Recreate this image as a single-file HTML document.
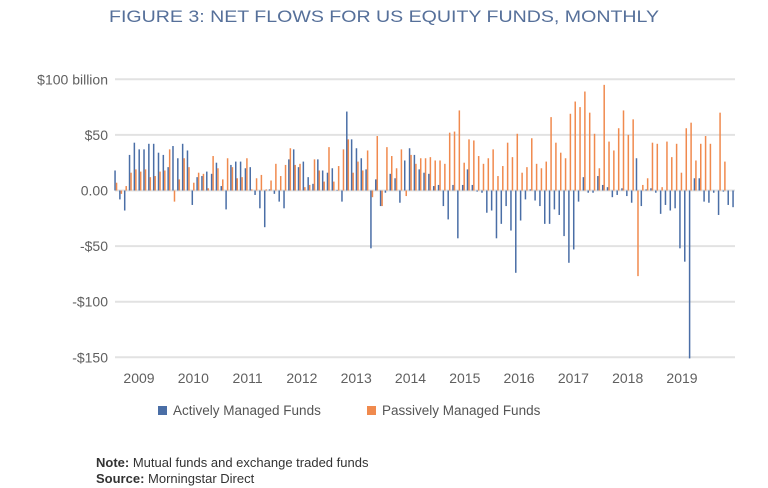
<!DOCTYPE html>
<html><head><meta charset="utf-8"><style>
html,body{margin:0;padding:0;background:#fff;}
svg{display:block;font-family:"Liberation Sans",sans-serif;}
</style></head><body>
<svg id="chart" width="768" height="488" viewBox="0 0 768 488">
<text x="384" y="22" text-anchor="middle" font-size="17" fill="#56709a" textLength="550" lengthAdjust="spacingAndGlyphs">FIGURE 3: NET FLOWS FOR US EQUITY FUNDS, MONTHLY</text>
<g id="grid"></g><g id="bars"></g><g id="xlabels"></g>
<g>
<rect x="158" y="406" width="9" height="9" fill="#4a6ea6"/>
<text x="173" y="415" font-size="13.5" fill="#555">Actively Managed Funds</text>
<rect x="367" y="406" width="9" height="9" fill="#f08a4e"/>
<text x="382" y="415" font-size="13.5" fill="#555">Passively Managed Funds</text>
</g>
<text x="96" y="467" font-size="13" fill="#333"><tspan font-weight="bold">Note:</tspan> Mutual funds and exchange traded funds</text>
<text x="96" y="483" font-size="13" fill="#333"><tspan font-weight="bold">Source:</tspan> Morningstar Direct</text>
</svg>
<script>
const active=[18,-8,-18,32,43,37,37,42,42,34,32,21,40,29,42,36,-13,12,13,17,15,25,4,-17,23,26,26,20,21,-4,-16,-33,1,-3,-10,-16,28,37,21,26,12,6,28,18,16,20,0.5,-10,71,46,38,29,19,-52,10,-14,-2,15,11,-11,27,38,32,19,16,15,4,5,-14,-26,5,-43,5,19,5,-1,-2,-20,-18,-43,-30,-14,-36,-74,-27,-8,1,-9,-14,-30,-30,-17,-22,-41,-65,-53,-10,12,-2,-2,13,5,3,-6,-4,2,-5,-11,29,-14,1,2,-2,-21,-13,-18,-16,-52,-64,-151,11,11,-10,-11,-2,-22,-1,-13,-15];
const passive=[7,-3,4,16,19,17,19,12,13,17,18,37,-10,10,29,21,7,16,15,2,31,20,10,29,21,11,12,29,1,11,14,1,9,24,13,23,38,23,24,3,5,28,18,8,39,8,22,37,46,16,26,18,36,-6,49,-14,39,31,20,37,-5,32,24,29,29,30,27,27,24,52,53,72,25,46,45,31,24,29,37,13,22,43,30,51,16,21,47,24,20,26,66,43,34,29,69,80,75,89,70,51,20,95,44,36,56,72,50,64,-77,5,11,43,42,3,44,30,42,16,56,61,27,42,49,42,0,70,26,0];
const yTicks=[100,50,0,-50,-100,-150];
const yTickLabels=["$100 billion","$50","0.00","-$50","-$100","-$150"];
const years=["2009","2010","2011","2012","2013","2014","2015","2016","2017","2018","2019"];
const NS="http://www.w3.org/2000/svg";
const x0=115,x1=735;
function y(v){return 190.5-(v)*1.112;}
function xm(i){return 115+i*(618/(active.length-1));}
function xl(i){return 139+i*54.3;}
function mk(t,a,p){const e=document.createElementNS(NS,t);for(const k in a)e.setAttribute(k,a[k]);p.appendChild(e);return e;}
const grid=document.getElementById('grid');
yTicks.forEach((v,i)=>{
 const l=mk('line',{x1:x0,x2:x1,y1:y(v),y2:y(v),stroke:'#e2e2e2','stroke-width':2},grid);
 
 
 const t=mk('text',{x:108,y:y(v)+5,'text-anchor':'end','font-size':14,fill:'#606060'},grid);
 t.textContent=yTickLabels[i];
 
 
});
const bars=document.getElementById('bars');
active.forEach((v,i)=>{
 const r=mk('rect',{x:xm(i)-0.7,y:Math.min(y(v),y(0)),width:1.5,height:Math.abs(y(v)-y(0)),fill:'#4a6ea6'},bars);
 
 
});
passive.forEach((v,i)=>{
 const r=mk('rect',{x:xm(i)+0.8,y:Math.min(y(v),y(0)),width:1.5,height:Math.abs(y(v)-y(0)),fill:'#f08a4e'},bars);
 
 
});
const xg=document.getElementById('xlabels');
years.forEach((yr,i)=>{
 const t=mk('text',{x:xl(i),y:383,'text-anchor':'middle','font-size':14,fill:'#606060'},xg);
 t.textContent=yr;
 
 
});
</script>
</body></html>
